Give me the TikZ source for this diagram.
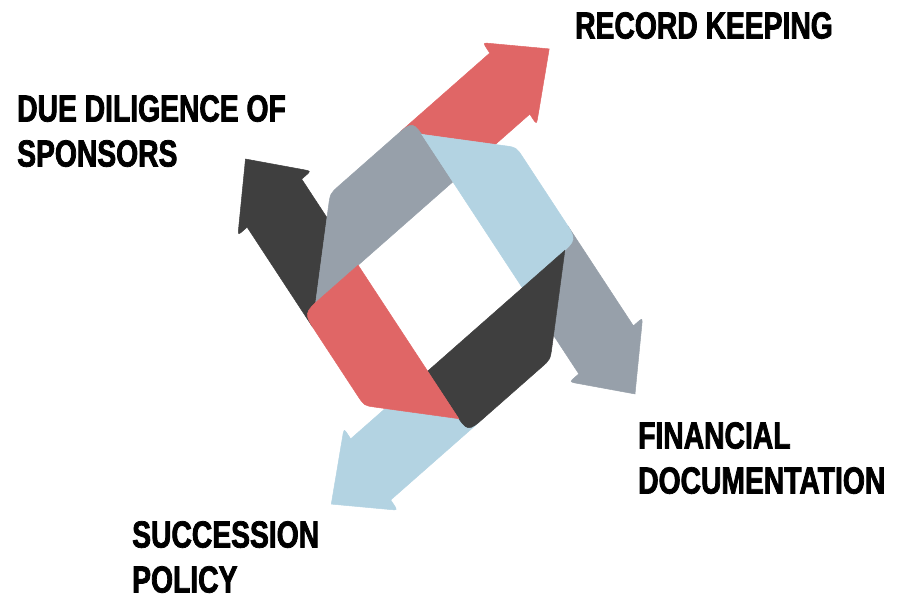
\documentclass[tikz,border=0pt]{standalone}
\usepackage{fontspec}
\newfontfamily\labelfont[FakeStretch=0.75,FakeBold=2]{Liberation Sans}

\definecolor{ribred}{HTML}{E06666}
\definecolor{ribdark}{HTML}{3F3F3F}
\definecolor{ribslate}{HTML}{97A0AA}
\definecolor{ribblue}{HTML}{B3D3E2}

\tikzset{
  itemtext/.style={anchor=north west, inner sep=0pt, align=left,
    font=\labelfont\bfseries\fontsize{37.7}{45}\selectfont},
  piece/.style={fill=#1, draw=#1, line width=0.5pt}
}

\begin{document}
\begin{tikzpicture}[x=1pt,y=1pt]
  \useasboundingbox (0,0) rectangle (898,600);

  % Skewed frame: u runs to the upper right, v to the lower right
  \begin{scope}[cm={0.758,0.667,0.556,-0.848,(440.25,323.5)}]
    % Arrows, each one carries a band on beyond the frame
    \foreach \k/\col in {0/ribred,1/ribslate,2/ribblue,3/ribdark} {
      \filldraw[piece=\col, rotate=90*\k] (46.5,-134.5) -- (118.5,-62.5) -- (164,-62.5)
        -- (164,-57.5) .. controls (164,-50.5) .. (169.2,-55.2)
        -- (216,-98.5)
        -- (169.2,-141.8) .. controls (164,-146.5) .. (164,-139.5)
        -- (164,-134.5) -- cycle;
    }

    % Bands of the frame, laid over the arrows
    \foreach \k/\col in {0/ribslate,1/ribblue,2/ribdark,3/ribred} {
      \filldraw[piece=\col, rotate=90*\k] (-118.5,-62.5) -- (62.5,-62.5)
        -- (62.5,-110.5) .. controls (62.5,-134.5) .. (38.5,-134.5)
        -- (-34.5,-134.5) .. controls (-46.5,-134.5) .. (-55,-126)
        -- cycle;
    }
  \end{scope}

  % Add labels
  \node[itemtext] (keeping) at (575,588) {RECORD KEEPING};
  \node[itemtext] (diligence) at (17,505) {DUE DILIGENCE OF\\SPONSORS};
  \node[itemtext] (financial) at (638,178) {FINANCIAL\\DOCUMENTATION};
  \node[itemtext] (succession) at (132,79) {SUCCESSION\\POLICY};
\end{tikzpicture}
\end{document}
